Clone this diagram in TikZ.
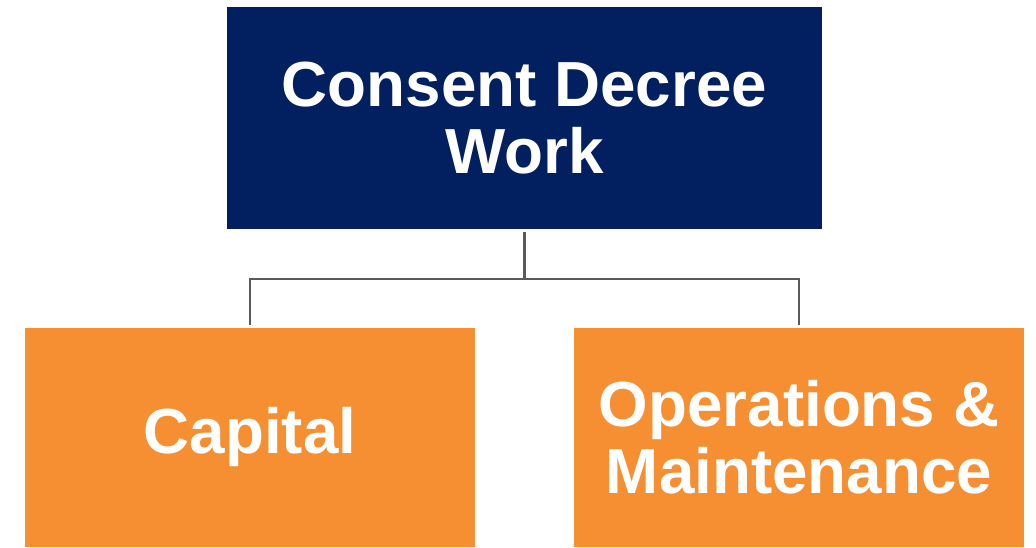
\documentclass[tikz,border=0pt]{standalone}
\usepackage{fontspec}
\setmainfont{Liberation Sans}
\usetikzlibrary{positioning}
\definecolor{navy}{HTML}{021F60}
\definecolor{tangerine}{HTML}{F58F31}
\definecolor{linegray}{HTML}{5A5A5A}

\begin{document}
\begin{tikzpicture}[x=0.75pt,y=-0.75pt,
	box/.style={inner sep=0pt,minimum width=446.25pt,minimum height=166.5pt,text=white,align=center,font=\fontsize{47.8}{50}\selectfont\bfseries},
	smallbox/.style={box,minimum width=337.5pt,minimum height=164.25pt},
	conn/.style={draw=linegray,line width=2.2pt}]
	\useasboundingbox (0,0) rectangle (1036,547);
	\node (work) [box,fill=navy] at (524.5,118) {Consent Decree\\Work};
	\node (capital) [smallbox,fill=tangerine] at (250,437.5) {Capital};
	\node (om) [smallbox,fill=tangerine] at (799,437.5) {Operations \&\\Maintenance};
	\coordinate (fork) at (524.5,279);
	\draw[conn] (work.south) ++(0,3) -- (fork) -| ([yshift=2.25pt]capital.north);
	\draw[conn] (fork) -| ([yshift=2.25pt]om.north);
\end{tikzpicture}
\end{document}
